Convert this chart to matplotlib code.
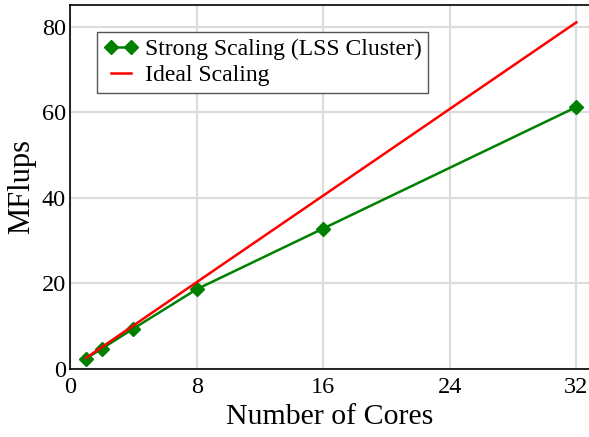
import numpy as np
import matplotlib
matplotlib.use('Agg')
import matplotlib.pyplot as plt

plt.rcParams['font.family'] = 'Liberation Serif'
plt.rcParams['mathtext.fontset'] = 'stix'

cores = [1, 2, 4, 8, 16, 32]
mflups_strong = [2.4, 4.7, 9.4, 18.6, 32.8, 61.2]
mflups_ideal = [2.53, 5.06, 10.12, 20.25, 40.5, 81.0]

fig = plt.figure(figsize=(5.89, 4.37), dpi=100)
ax = fig.add_axes([0.119, 0.156, 0.881, 0.833])

ax.plot(cores, mflups_strong, '-D', color='green', lw=1.8, ms=7.5,
        label='Strong Scaling (LSS Cluster)', zorder=3)
ax.plot(cores, mflups_ideal, '-', color='red', lw=1.8,
        label='Ideal Scaling', zorder=4)

ax.set_xlim(0, 32.8)
ax.set_ylim(0, 85.1)
ax.set_xticks([0, 8, 16, 24, 32])
ax.set_yticks([0, 20, 40, 60, 80])
ax.tick_params(length=0, labelsize=17.5)
ax.tick_params(axis='x', pad=6)
ax.tick_params(axis='y', pad=3)
ax.grid(color='#dcdcdc', lw=1.6)
ax.set_axisbelow(True)
for s in ['left', 'bottom', 'top']:
    ax.spines[s].set_linewidth(1.2)
ax.spines['right'].set_visible(False)

ax.set_xlabel('Number of Cores', fontsize=21.5, labelpad=4)
ax.set_ylabel('MFlups', fontsize=22, labelpad=4)

leg = ax.legend(loc='upper left', bbox_to_anchor=(0.052, 0.926), borderaxespad=0,
                fontsize=17, fancybox=False, framealpha=1, edgecolor='#555555',
                numpoints=2, handlelength=1.45, handletextpad=0.3,
                borderpad=0.28, labelspacing=0.2)
leg.get_frame().set_linewidth(1.0)

plt.savefig('out.png', dpi=100)
